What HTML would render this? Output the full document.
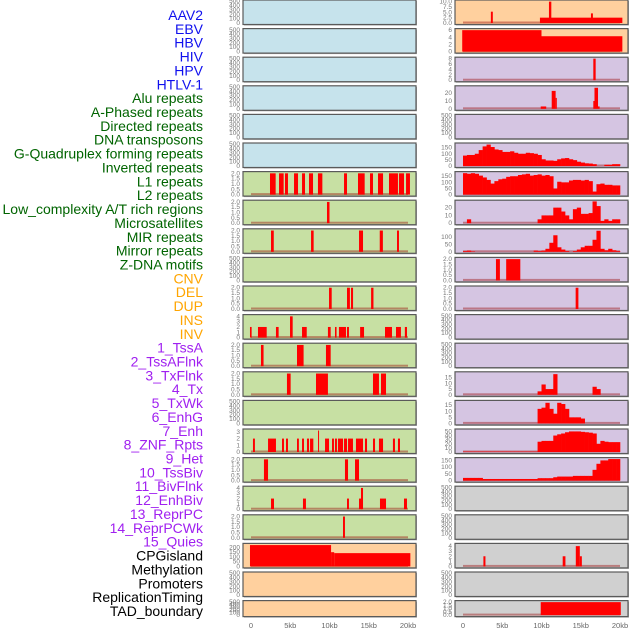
<!DOCTYPE html>
<html><head><meta charset="utf-8"><style>
body{margin:0;background:#fff;}
svg{display:block;font-family:"Liberation Sans",sans-serif;}
</style></head><body>
<svg id="c" width="630" height="630"></svg>
<script>
// ---- data ----
const labels = ["AAV2","EBV","HBV","HIV","HPV","HTLV-1","Alu repeats","A-Phased repeats","Directed repeats","DNA transposons","G-Quadruplex forming repeats","Inverted repeats","L1 repeats","L2 repeats","Low_complexity A/T rich regions","Microsatellites","MIR repeats","Mirror repeats","Z-DNA motifs","CNV","DEL","DUP","INS","INV","1_TssA","2_TssAFlnk","3_TxFlnk","4_Tx","5_TxWk","6_EnhG","7_Enh","8_ZNF_Rpts","9_Het","10_TssBiv","11_BivFlnk","12_EnhBiv","13_ReprPC","14_ReprPCWk","15_Quies","CPGisland","Methylation","Promoters","ReplicationTiming","TAD_boundary"];
const labelColors = ["#1010ee","#1010ee","#1010ee","#1010ee","#1010ee","#1010ee","#006400","#006400","#006400","#006400","#006400","#006400","#006400","#006400","#006400","#006400","#006400","#006400","#006400","#ffa500","#ffa500","#ffa500","#ffa500","#ffa500","#a020f0","#a020f0","#a020f0","#a020f0","#a020f0","#a020f0","#a020f0","#a020f0","#a020f0","#a020f0","#a020f0","#a020f0","#a020f0","#a020f0","#a020f0","#000","#000","#000","#000","#000"];
const xTicks = [0,5,10,15,20];
const xTickLabels = ["0","5kb","10kb","15kb","20kb"];
const emptyTicks = [0,100,200,300,400,500];
const ticks2 = [0,0.5,1,1.5,2];

// left column segments [startKb, endKb, value]
const L6 = [[2.42,3.14,2],[3.57,4.16,2],[4.33,4.71,2],[5.48,5.99,2],[6.5,6.88,2],[7.39,7.9,2],[8.53,9.09,2],[11.85,12.23,2],[13.63,14.48,2],[15.16,15.54,2],[16.18,16.82,2],[17.58,18.72,2],[18.85,19.49,2],[19.75,20.25,2]];
const L7 = [[9.68,10.0,2]];
const L8 = [[2.55,2.9,2],[7.65,7.98,2],[13.76,14.27,2],[16.4,16.8,2],[18.6,18.85,2]];
const L10 = [[9.94,10.28,2],[12.23,12.6,2],[12.74,13.0,2],[15.3,15.6,2]];
const L11 = [[-0.13,0.08,2],[0.89,2.0,2],[3.18,3.52,2],[4.97,5.31,4],[6.5,7.1,2],[9.8,10.15,2],[10.7,10.9,2],[11.2,12.1,2],[12.23,12.48,2],[13.9,14.4,2],[17.07,17.96,2],[18.47,19.1,2],[19.6,19.87,2]];
const L12 = [[1.27,1.6,2],[5.86,6.7,2],[9.55,10.15,2]];
const L13 = [[4.58,5.05,2],[8.28,9.8,2],[15.54,16.3,2],[16.56,17.2,2]];
const L15 = [[0.25,0.5,2],[2.17,3.18,2],[3.95,4.2,2],[4.46,4.71,2],[5.86,6.1,2],[6.5,6.75,2],[7.13,7.39,2],[7.52,7.94,2],[8.54,8.66,3.2],[9.43,9.94,2],[10.32,10.57,2],[10.7,10.95,2],[11.08,11.72,2],[11.85,12.23,2],[12.36,12.99,2],[13.37,14.27,2],[14.52,14.78,2],[15.54,15.8,2],[16.3,16.82,2],[18.08,18.34,2],[18.72,18.98,2]];
const L16 = [[1.65,2.17,2],[11.97,12.36,2],[13.25,13.76,2]];
const L17 = [[2.55,2.93,2],[6.62,7.0,2],[12.23,12.48,2],[13.76,14.14,2],[14.01,14.27,4],[16.43,17.2,2],[19.49,19.87,2]];
const L18 = [[11.72,11.97,2]];
const L19 = [[-0.13,10.2,225],[10.2,10.6,150],[10.6,20.3,140]];

// right column
const R0 = [[3.55,3.8,5.3],[9.8,20.3,2.5],[10.95,11.25,10],[16.3,16.55,4.5]];
const R1 = [[-0.1,10.0,6],[10.0,20.3,4.3]];
const R2 = [[16.6,16.9,8]];
const R3 = [[9.9,10.6,3],[11.3,11.8,23],[11.8,11.95,14],[16.6,16.75,10],[16.75,17.2,27],[17.2,17.4,3]];
const R9 = [[4.2,4.7,2],[5.5,7.3,2]];
const R10 = [[14.35,14.7,2]];
const R19 = [[2.6,2.86,2],[12.7,13.05,2],[14.37,14.88,4],[14.88,15.14,2]];
const R21 = [[9.9,20.1,2]];
// right column binned values (0.5kb bins)
const R5 = [85,90,90,100,130,160,175,155,135,130,115,115,120,108,100,100,108,105,100,90,55,45,45,42,55,62,65,55,48,35,28,22,20,15,0,0,10,10,15,15];
const R6 = [175,170,175,170,155,140,120,90,110,125,130,145,150,150,160,165,170,155,160,165,155,160,150,50,105,100,100,115,120,120,115,120,110,25,85,90,80,80,75,75];
const R7 = [0,5,0,0,0,0,0,0,0,0,0,0,0,0,0,0,0,0,0,5,10,10,10,20,20,15,10,5,18,20,12,12,13,28,22,3,5,3,5,5];
const R8 = [5,8,3,0,0,0,0,0,0,0,0,0,0,0,0,0,0,0,8,5,8,20,60,110,30,15,5,0,5,15,30,40,40,80,140,20,10,20,10,5];
const R13 = [0,0,0,0,0,0,0,0,0,0,0,0,0,0,0,0,0,0,0,3,9,5,5,18,0,0,0,0,0,0,0,0,0,7,5,0,0,0,0,0];
const R14 = [0,0,0,0,0,0,0,0,0,0,0,0,0,0,0,0,0,0,0,12,13,17,12,8,17,16,12,5,5,5,4,0,0,0,0,0,0,0,0,0];
const R15 = [1,1,1,1,1,1,1,1,1,1,1,1,1,1,1,1,1,1,1,25,27,27,27,40,43,45,48,50,50,50,49,48,47,45,20,27,25,24,24,24];
const R16 = [20,20,20,20,20,12,12,12,12,12,12,12,12,12,12,12,12,12,12,18,18,18,18,25,30,30,30,30,35,35,35,35,35,80,125,150,150,160,160,160];

const BLUE="#c6e3ec",GREEN="#c7e0a3",PEACH="#ffd09e",PURPLE="#d5c5e2",GRAY="#d0d0d0";
const leftCfg = [
 [BLUE,null,emptyTicks,500],[BLUE,null,emptyTicks,500],[BLUE,null,emptyTicks,500],[BLUE,null,emptyTicks,500],[BLUE,null,emptyTicks,500],[BLUE,null,emptyTicks,500],
 [GREEN,L6,ticks2,2.05],[GREEN,L7,ticks2,2.05],[GREEN,L8,ticks2,2.05],[GREEN,null,emptyTicks,500],[GREEN,L10,ticks2,2.05],[GREEN,L11,[0,1,2,3,4],4.1],
 [GREEN,L12,ticks2,2.05],[GREEN,L13,ticks2,2.05],[GREEN,null,emptyTicks,500],[GREEN,L15,[0,1,2,3],3.25],[GREEN,L16,ticks2,2.05],[GREEN,L17,[0,1,2,3,4],4.1],[GREEN,L18,ticks2,2.05],
 [PEACH,L19,[0,50,100,150,200],230],[PEACH,null,emptyTicks,500],[PEACH,null,emptyTicks,500]];
const rightCfg = [
 [PEACH,R0,[0,2.5,5,7.5,10],10.2],[PEACH,R1,[0,2,4,6],6.1],[PURPLE,R2,[0,2,4,6,8],8.1],[PURPLE,R3,[0,10,20],28],[PURPLE,null,emptyTicks,500],[PURPLE,R5,[0,50,100,150],178],
 [PURPLE,R6,[0,50,100,150],178],[PURPLE,R7,[0,10,20],28],[PURPLE,R8,[0,50,100],145],[PURPLE,R9,ticks2,2.05],[PURPLE,R10,ticks2,2.05],[PURPLE,null,emptyTicks,500],
 [PURPLE,null,emptyTicks,500],[PURPLE,R13,[0,5,10,15],19],[PURPLE,R14,[0,5,10,15],18],[PURPLE,R15,[0,10,20,30,40,50],53],[PURPLE,R16,[0,50,100,150],162],
 [GRAY,null,emptyTicks,500],[GRAY,null,emptyTicks,500],[GRAY,R19,[0,1,2,3,4],4.3],[GRAY,null,emptyTicks,500],[GRAY,R21,ticks2,2.05]];

// ---- drawing ----
const NS="http://www.w3.org/2000/svg";
const svg=document.getElementById('c');
function mk(tag,attrs,parent){const e=document.createElementNS(NS,tag);for(const k in attrs)e.setAttribute(k,attrs[k]);(parent||svg).appendChild(e);return e;}
function fmt(v,ticks){const dec=ticks.some(t=>t%1!==0)||(ticks.length===5&&ticks[4]===2&&ticks[1]===0.5);return dec?v.toFixed(1):String(v);}

labels.forEach((t,i)=>{
  const e=mk('text',{x:203,y:15+i*13.86+5,'text-anchor':'end','font-size':'14',fill:labelColors[i]});
  e.textContent=t;
  
  
});

function drawCol(cfg,px,side){
  const pw=173, x0=px+8, x1=px+165;
  const xs=kb=>x0+(kb/20)*(x1-x0);
  cfg.forEach((c,i)=>{
    const top=i*28.6, h=(i===21)?16:24.5;
    const g=mk('g',{});
    
    
    mk('rect',{x:px+1,y:top+1,width:pw,height:h,fill:'#aaa'},g);
    mk('rect',{x:px,y:top,width:pw,height:h,fill:c[0],stroke:'#5a5a5a','stroke-width':1.2},g);
    const yb=top+h-1.5, yt=top+1.2, ymax=c[3];
    const ys=v=>yb-(v/ymax)*(yb-yt);
    c[2].forEach(t=>{
      const e=mk('text',{x:px-3,y:ys(t)+2,'text-anchor':'end','font-size':'6.5',fill:'#777'},g);
      e.textContent=fmt(t,c[2]);
      
      
    });
    const d=c[1];
    if(d){
      const base=mk('rect',{x:xs(0),y:yb-1.5,width:xs(20)-xs(0),height:2,fill:'rgba(150,0,0,0.4)'},g);
      
      
      if(typeof d[0]==='number'){
        d.forEach((v,j)=>{ if(v<=0)return;
          const r=mk('rect',{x:xs(j*0.5),y:ys(v),width:xs((j+1)*0.5)-xs(j*0.5)+0.3,height:yb-ys(v),fill:'#ff0000'},g);
          
          
        });
      } else {
        d.forEach(s=>{
          const r=mk('rect',{x:xs(s[0]),y:ys(s[2]),width:Math.max(1,xs(s[1])-xs(s[0])),height:yb-ys(s[2]),fill:'#ff0000'},g);
          
          
        });
      }
    }
  });
  xTicks.forEach((t,k)=>{
    const e=mk('text',{x:xs(t),y:628,'text-anchor':'middle','font-size':'7.5',fill:'#666'});
    e.textContent=xTickLabels[k];
    
    
  });
}
drawCol(leftCfg,243,'left');
drawCol(rightCfg,455,'right');
</script>
</body></html>
